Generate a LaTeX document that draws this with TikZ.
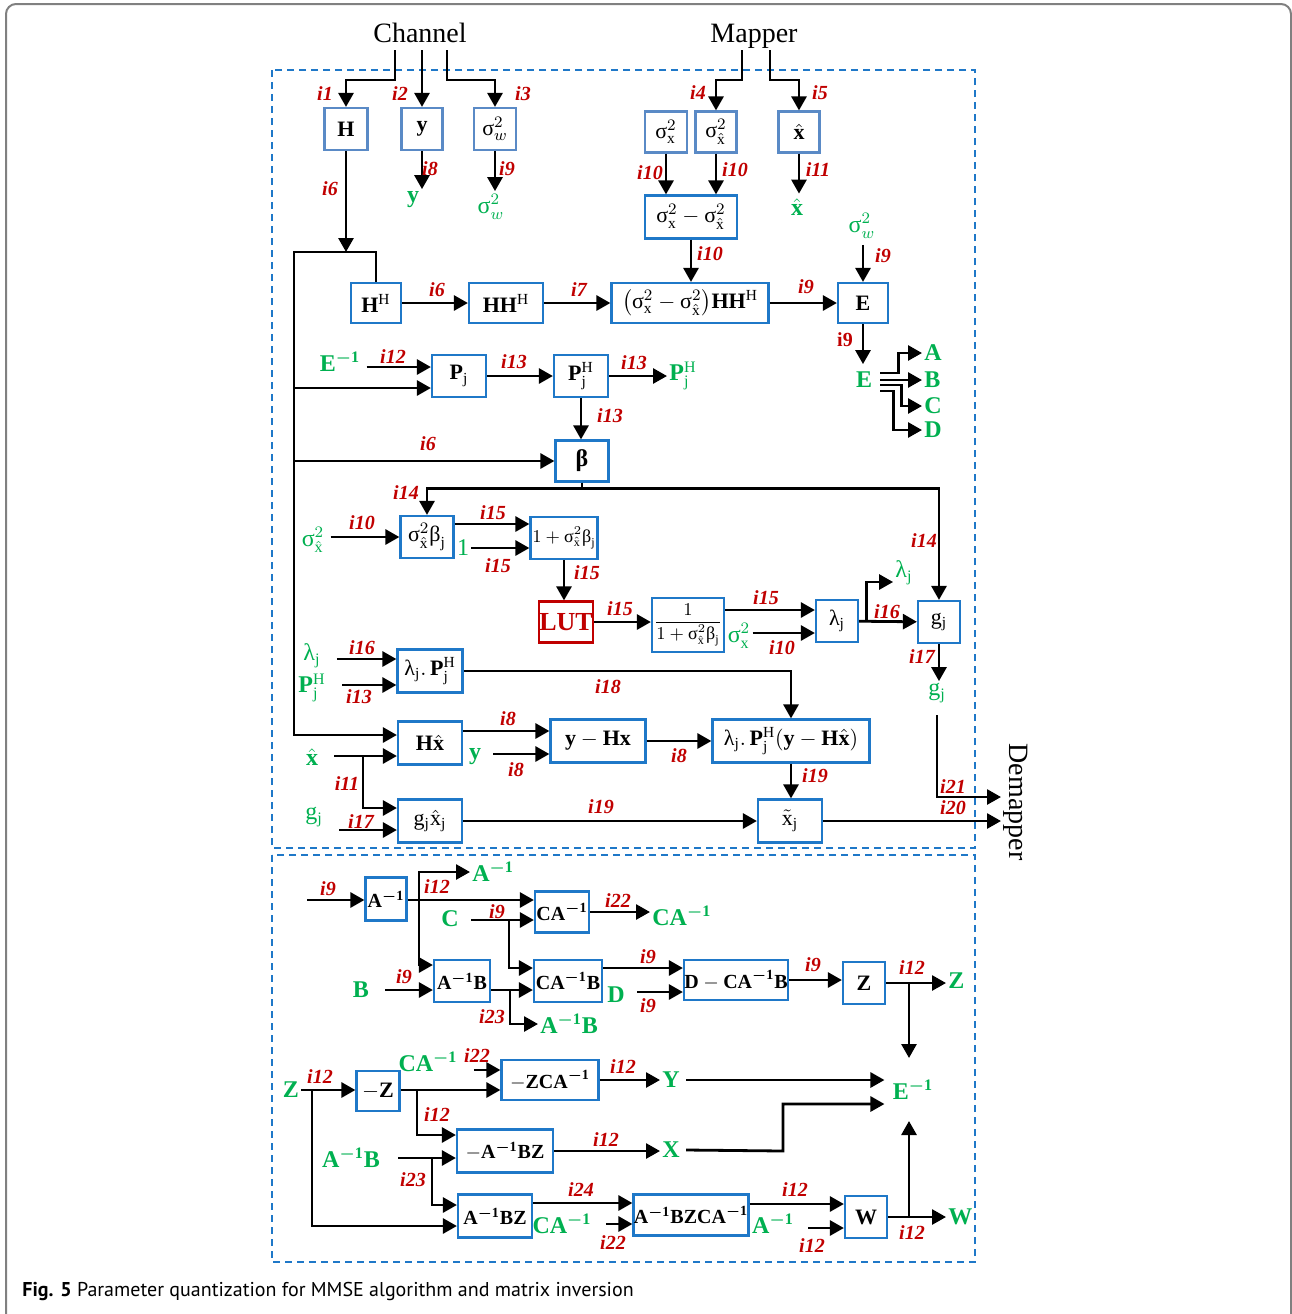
\documentclass[tikz,border=0pt]{standalone}
\usepackage{amsmath}
\usepackage{fontspec}
\setmainfont{Liberation Serif}
\newfontfamily\capfont{PT Sans}
\usetikzlibrary{arrows.meta,positioning,calc}

\definecolor{boxblue}{HTML}{1F78C8}
\definecolor{topblue}{HTML}{5A8AC6}
\definecolor{idxred}{HTML}{C00000}
\definecolor{sgreen}{HTML}{00B050}
\definecolor{framegray}{HTML}{808080}

\newcommand{\usg}{\text{σ}}
\newcommand{\ulm}{\text{λ}}
\newcommand{\ubt}{\text{β}}
\newcommand{\inv}{^{\boldsymbol{-}\mathbf{1}}}

\begin{document}
\begin{tikzpicture}[x=0.5pt,y=-0.5pt,
  blk/.style={draw=boxblue, line width=1.1pt, fill=white, inner sep=0pt, font=\fontsize{11}{13}\selectfont},
  tblk/.style={blk, draw=topblue},
  mblk/.style={blk, font=\fontsize{10}{12}\selectfont},
  lut/.style={blk, draw=idxred, text=idxred, font=\fontsize{13}{15}\selectfont\bfseries},
  sz/.style 2 args={minimum width=#1*0.5pt, minimum height=#2*0.5pt},
  idx/.style={text=idxred, font=\fontsize{10}{11}\selectfont\bfseries\itshape, inner sep=0pt},
  sig/.style={text=sgreen, font=\fontsize{12}{14}\selectfont, inner sep=3pt},
  ttl/.style={font=\fontsize{14}{16}\selectfont, inner sep=0pt, text depth=0pt},
  arrow/.style={-{Triangle[length=7pt,width=7.5pt]}, line width=1.4pt},
  grp/.style={draw=boxblue, line width=1.1pt, dash pattern=on 3.5pt off 2.5pt}
]
\useasboundingbox (0,0) rectangle (1292,1314);
\clip (0,0) rectangle (1292,1314);
\draw[framegray, line width=1pt, rounded corners=5pt] (6,4) rectangle (1291,1330);
\draw[grp] (272,70) rectangle (975,848);
\draw[grp] (272,855) rectangle (975,1262);

% sources
\node[ttl, anchor=south, inner ysep=3.5pt] (chan) at (420,50) {Channel};
\node[ttl, anchor=south, inner ysep=3.5pt] (mapr) at (754,50) {Mapper};
\node[ttl, rotate=-90, anchor=south, inner sep=1pt, text depth=] (dem) at (1001,802) {Demapper};

% first block
\node[tblk, sz={43}{42}] (bH) at (346,129) {$\mathbf{H}$};
\node[tblk, sz={41}{42}] (by) at (422,129) {$\mathbf{y}$};
\node[tblk, sz={42}{42}] (bsw) at (495,129) {$\usg_w^2$};
\node[tblk, sz={42}{41}] (bsx) at (666,132) {$\usg_\mathrm{x}^2$};
\node[tblk, sz={41}{41}] (bsxh) at (716,132) {$\usg_{\hat{\mathrm{x}}}^2$};
\node[tblk, sz={41}{41}] (bxh) at (799,132) {$\hat{\mathbf{x}}$};
\node[blk, sz={92}{43}] (diff) at (691,217) {$\usg_\mathrm{x}^2-\usg_{\hat{\mathrm{x}}}^2$};

\node[blk, sz={50}{40}] (hH) at (376,303) {$\mathbf{H}^\mathrm{H}$};
\node[blk, sz={74}{40}] (hhH) at (506,303) {$\mathbf{HH}^\mathrm{H}$};
\node[blk, sz={157}{40}] (big) at (690,303) {$\bigl(\usg_\mathrm{x}^2-\usg_{\hat{\mathrm{x}}}^2\bigr)\mathbf{HH}^\mathrm{H}$};
\node[blk, sz={50}{40}] (bE) at (863,303) {$\mathbf{E}$};

\node[blk, sz={54}{42}] (pj) at (459,376) {$\mathbf{P}_\mathrm{j}$};
\node[blk, sz={54}{42}] (pjh) at (581,376) {$\mathbf{P}_\mathrm{j}^\mathrm{H}$};
\node[blk, sz={53}{41}, font=\fontsize{12}{14}\selectfont] (beta) at (582,461) {\textbf{β}};

\node[blk, sz={53}{42}] (sbj) at (427,537) {$\usg_{\hat{\mathrm{x}}}^2\ubt_\mathrm{j}$};
\node[blk, sz={67}{42}, font=\fontsize{9}{11}\selectfont] (opb) at (564,538) {$1+\usg_{\hat{\mathrm{x}}}^2\ubt_\mathrm{j}$};
\node[lut, sz={54}{41}] (lut) at (566,622) {LUT};
\node[blk, sz={72}{54}, font=\fontsize{9}{11}\selectfont] (frac) at (688,625) {$\dfrac{1}{1+\usg_{\hat{\mathrm{x}}}^2\ubt_\mathrm{j}}$};
\node[blk, sz={42}{42}] (lam) at (837,621) {$\ulm_\mathrm{j}$};
\node[blk, sz={42}{42}] (gj) at (939,622) {$\mathrm{g}_\mathrm{j}$};

\node[blk, sz={65}{43}] (lpj) at (430,671) {$\ulm_\mathrm{j}.\,\mathbf{P}_\mathrm{j}^\mathrm{H}$};
\node[blk, sz={64}{43}] (hx) at (430,743) {$\mathbf{H}\hat{\mathbf{x}}$};
\node[blk, sz={95}{43}] (ymhx) at (598,741) {$\mathbf{y}-\mathbf{Hx}$};
\node[blk, sz={157}{43}] (lpy) at (791,741) {$\ulm_\mathrm{j}.\,\mathbf{P}_\mathrm{j}^\mathrm{H}(\mathbf{y}-\mathbf{H}\hat{\mathbf{x}})$};
\node[blk, sz={64}{43}] (gxx) at (430,821) {$\mathrm{g}_\mathrm{j}\hat{\mathrm{x}}_\mathrm{j}$};
\node[blk, sz={64}{43}] (xt) at (790,821) {$\tilde{\mathrm{x}}_\mathrm{j}$};

% green values, first block
\node[sig] (gy) at (413,200) {$\mathbf{y}$};
\node[sig] (gsw) at (491,207) {$\usg_w^2$};
\node[sig] (gxh) at (797,207) {$\hat{\mathbf{x}}$};
\node[sig] (gsw2) at (862,226) {$\usg_w^2$};
\node[sig, inner sep=0pt] (gE) at (864,380) {$\mathbf{E}$};
\node[sig, inner sep=1pt, anchor=west] (gA) at (922,353) {$\mathbf{A}$};
\node[sig, inner sep=1pt, anchor=west] (gB) at (922,380) {$\mathbf{B}$};
\node[sig, inner sep=1pt, anchor=west] (gC) at (922,406) {$\mathbf{C}$};
\node[sig, inner sep=1pt, anchor=west] (gD) at (922,430) {$\mathbf{D}$};
\node[sig] (gEi) at (340,362) {$\mathbf{E}\inv$};
\node[sig, inner sep=1pt, anchor=west] (gpjh) at (667,376) {$\mathbf{P}_\mathrm{j}^\mathrm{H}$};
\node[sig] (gsxh) at (313,540) {$\usg_{\hat{\mathrm{x}}}^2$};
\node[sig, inner sep=1pt] (gone) at (463,548) {1};
\node[sig, inner sep=1pt] (gsx) at (739,636) {$\usg_\mathrm{x}^2$};
\node[sig] (glam) at (904,573) {$\ulm_\mathrm{j}$};
\node[sig] (ggj) at (937,693) {$\mathrm{g}_\mathrm{j}$};
\node[sig, inner sep=8pt] (glam2) at (312,656) {$\ulm_\mathrm{j}$};
\node[sig, inner sep=8pt] (gpjh2) at (312,688) {$\mathbf{P}_\mathrm{j}^\mathrm{H}$};
\node[sig, inner sep=8pt] (gxh2) at (312,757) {$\hat{\mathbf{x}}$};
\node[sig, inner sep=6pt] (gy2) at (475,757) {$\mathbf{y}$};
\node[sig, inner sep=8pt] (ggj2) at (314,817) {$\mathrm{g}_\mathrm{j}$};

% matrix inversion block
\node[mblk, sz={41}{43}] (ai) at (386,899) {$\mathbf{A}\inv$};
\node[mblk, sz={54}{41}] (cai) at (562,912) {$\mathbf{CA}\inv$};
\node[mblk, sz={56}{42}] (aib) at (462,981) {$\mathbf{A}\inv\mathbf{B}$};
\node[mblk, sz={68}{42}] (caib) at (568,981) {$\mathbf{CA}\inv\mathbf{B}$};
\node[mblk, sz={104}{40}] (dcab) at (736,980) {$\mathbf{D}-\mathbf{CA}\inv\mathbf{B}$};
\node[blk, sz={42}{42}] (bz) at (864,983) {$\mathbf{Z}$};
\node[blk, sz={43}{40}] (mz) at (378,1091) {$-\mathbf{Z}$};
\node[mblk, sz={97}{40}] (zca) at (550,1080) {$-\mathbf{ZCA}\inv$};
\node[mblk, sz={96}{43}] (mabz) at (505,1151) {$-\mathbf{A}\inv\mathbf{BZ}$};
\node[mblk, sz={74}{43}] (abz) at (495,1216) {$\mathbf{A}\inv\mathbf{BZ}$};
\node[mblk, sz={115}{41}] (abzca) at (691,1215) {$\mathbf{A}\inv\mathbf{BZCA}\inv$};
\node[blk, sz={42}{42}] (bw) at (866,1217) {$\mathbf{W}$};

\node[sig, inner sep=1pt, anchor=west] (gA1) at (470,872) {$\mathbf{A}\inv$};
\node[sig, inner sep=6pt] (gC2) at (450,919) {$\mathbf{C}$};
\node[sig, inner sep=1pt, anchor=west] (gCA1) at (650,916) {$\mathbf{CA}\inv$};
\node[sig, inner sep=8pt] (gB2) at (361,990) {$\mathbf{B}$};
\node[sig, inner sep=6pt] (gD2) at (616,995) {$\mathbf{D}$};
\node[sig, inner sep=1pt, anchor=west] (gAB) at (538,1024) {$\mathbf{A}\inv\mathbf{B}$};
\node[sig, inner sep=1pt, anchor=west] (gZ) at (946,981) {$\mathbf{Z}$};
\node[sig, inner sep=1pt] (gZ2) at (291,1090) {$\mathbf{Z}$};
\node[sig, inner sep=8pt] (gCA2) at (428,1062) {$\mathbf{CA}\inv$};
\node[sig, inner sep=1pt, anchor=west] (gY) at (660,1080) {$\mathbf{Y}$};
\node[sig, inner sep=1pt, anchor=west] (gX) at (660,1150) {$\mathbf{X}$};
\node[sig, inner sep=9pt] (gAB2) at (351,1158) {$\mathbf{A}\inv\mathbf{B}$};
\node[sig, inner sep=7pt] (gCA3) at (562,1224) {$\mathbf{CA}\inv$};
\node[sig, inner sep=7pt] (gA2) at (773,1224) {$\mathbf{A}\inv$};
\node[sig, inner sep=1pt, anchor=west] (gW) at (946,1217) {$\mathbf{W}$};
\node[sig, inner sep=4pt] (gEi2) at (913,1090) {$\mathbf{E}\inv$};

% junctions and free ends
\coordinate (tk) at (294,252);
\coordinate (pjB) at ([yshift=-6pt]pj.west);
\coordinate (pjA) at ([yshift=4.5pt]pj.west);
\coordinate (opbA) at ([yshift=7pt]opb.west);
\coordinate (opbB) at ([yshift=-5pt]opb.west);
\coordinate (fracA) at ([yshift=7.5pt]frac.east);
\coordinate (lamB) at ([yshift=-6pt]lam.west);
\coordinate (lpjA) at ([yshift=6pt]lpj.west);
\coordinate (lpjB) at ([yshift=-7pt]lpj.west);
\coordinate (hxA) at ([yshift=4pt]hx.west);
\coordinate (hxB) at ([yshift=-6.5pt]hx.west);
\coordinate (hxC) at ([yshift=6pt]hx.east);
\coordinate (ymB) at ([yshift=-6.5pt]ymhx.west);
\coordinate (gxxA) at ([yshift=6.5pt]gxx.west);
\coordinate (gxxB) at ([yshift=-4.5pt]gxx.west);
\coordinate (brx) at (363,756);
\coordinate (dmA) at ([yshift=2.5pt]dem.south);

\coordinate (ain) at (307,900);
\coordinate (caiA) at ([yshift=6pt]cai.west);
\coordinate (caiB) at ([yshift=-4pt]cai.west);
\coordinate (abr) at (419,900);
\coordinate (aibA) at ([yshift=8pt]aib.west);
\coordinate (aibB) at ([yshift=-4.5pt]aib.west);
\coordinate (cbr) at (509,920);
\coordinate (caibA) at ([yshift=6.5pt]caib.west);
\coordinate (caibB) at ([yshift=-4.5pt]caib.west);
\coordinate (bbr) at (510,990);
\coordinate (dcabA) at ([yshift=6pt]dcab.west);
\coordinate (dcabB) at ([yshift=-6pt]dcab.west);
\coordinate (zbr) at (909,982);
\coordinate (zbr2) at (312,1090);
\coordinate (zcaA) at ([yshift=5pt]zca.west);
\coordinate (zcaB) at ([yshift=-5pt]zca.west);
\coordinate (mzbr) at (417,1090);
\coordinate (mabzA) at ([yshift=8pt]mabz.west);
\coordinate (mabzB) at ([yshift=-3.5pt]mabz.west);
\coordinate (abbr) at (432,1158);
\coordinate (abzA) at ([yshift=5.5pt]abz.west);
\coordinate (abzB) at ([yshift=-5pt]abz.west);
\coordinate (abzcaA) at ([yshift=6pt]abzca.west);
\coordinate (abzcaB) at ([yshift=-4.5pt]abzca.west);
\coordinate (bwA) at ([yshift=6.5pt]bw.west);
\coordinate (bwB) at ([yshift=-5.5pt]bw.west);
\coordinate (eiA) at ([yshift=5pt]gEi2.west);
\coordinate (eiB) at ([yshift=-7pt]gEi2.west);
\coordinate (xbr) at (783,1151);
\coordinate (wbr) at (909,1217);

% connectors, first block
\draw[arrow] ([xshift=-12.5pt]chan.south) -- ++(0,30) -| (bH.north);
\draw[arrow] ([xshift=1pt]chan.south) -- (by.north);
\draw[arrow] ([xshift=13.5pt]chan.south) -- ++(0,30) -| (bsw.north);
\draw[arrow] ([xshift=-6pt]mapr.south) -- ++(0,30) -| (bsxh.north);
\draw[arrow] ([xshift=8pt]mapr.south) -- ++(0,30) -| (bxh.north);
\draw[arrow] (by.south) -- ++(0,38);
\draw[arrow] (bsw.south) -- ++(0,40);
\draw[arrow] (bsx.south) -- (bsx.south |- diff.north);
\draw[arrow] (bsxh.south) -- (bsxh.south |- diff.north);
\draw[arrow] (bxh.south) -- ++(0,40);
\draw[arrow] (diff.south) -- (diff.south |- big.north);
\draw[arrow] (bH.south) -- (bH.south |- tk);
\draw[arrow] (hH.north) |- (tk) |- (hxA);
\draw[arrow] (hH) -- (hhH);
\draw[arrow] (hhH) -- (big);
\draw[arrow] (big) -- (bE);
\draw[arrow] (gsw2.south -| bE.north) -- (bE.north);
\draw[arrow] (bE.south) -- ++(0,40);
\draw[arrow] ([xshift=4pt,yshift=3.5pt]gE.east) -- ++(18,0) |- (gA.west);
\draw[arrow] ([xshift=4pt]gE.east) -- (gB.west);
\draw[arrow] ([xshift=4pt,yshift=-2.5pt]gE.east) -- ++(21,0) |- (gC.west);
\draw[arrow] ([xshift=4pt,yshift=-5.5pt]gE.east) -- ++(13,0) |- (gD.west);
\draw[arrow] (gEi.east |- pjA) -- (pjA);
\draw[arrow] (tk |- pjB) -- (pjB);
\draw[arrow] (pj) -- (pjh);
\draw[arrow] (pjh) -- (gpjh);
\draw[arrow] (pjh.south) -- (pjh.south |- beta.north);
\draw[arrow] (tk |- beta) -- (beta);
\draw[arrow] (beta.south) -- ++(0,6) -| (sbj.north);
\draw[arrow] (beta.south) -- ++(0,6) -| (gj.north);
\draw[arrow] (gsxh.east |- sbj.west) -- (sbj.west);
\draw[arrow] (sbj.east |- opbA) -- (opbA);
\draw[arrow] (gone.east |- opbB) -- (opbB);
\draw[arrow] (opb.south) -- (opb.south |- lut.north);
\draw[arrow] (lut.east) -- (lut.east -| frac.west);
\draw[arrow] (fracA) -- (fracA -| lam.west);
\draw[arrow] (gsx.east |- lamB) -- (lamB);
\draw[arrow] (lam) -- (gj);
\draw[arrow] ([xshift=3.5pt]lam.east) |- ++(27,-39);
\draw[arrow] (gj.south) -- ++(0,37);
\draw[arrow] (glam2.east |- lpjA) -- (lpjA);
\draw[arrow] (gpjh2.east |- lpjB) -- (lpjB);
\draw[arrow] (lpj.east) -| (lpy.north);
\draw[arrow] (gxh2.east |- hxB) -- (hxB);
\draw[arrow] (brx) |- (gxxA);
\draw[arrow] (ggj2.east |- gxxB) -- (gxxB);
\draw[arrow] (hxC) -- (hxC -| ymhx.west);
\draw[arrow] (gy2.east |- ymB) -- (ymB);
\draw[arrow] (ymhx) -- (lpy);
\draw[arrow] (lpy.south) -- (lpy.south |- xt.north);
\draw[arrow] (gxx) -- (gxx -| xt.west);
\draw[arrow] (xt.east) -- (xt.east -| dem.south);
\draw[arrow] ([yshift=-3pt]ggj.south) |- (dmA);

% connectors, matrix inversion block
\draw[arrow] (ain) -- (ain -| ai.west);
\draw[arrow] (ai.east |- caiA) -- (caiA);
\draw[arrow] (abr) |- (gA1.west);
\draw[arrow] (abr) |- (aibA);
\draw[arrow] (gC2.east |- caiB) -- (caiB);
\draw[arrow] (cbr) |- (caibA);
\draw[arrow] (cai.east) -- (cai.east -| gCA1.west);
\draw[arrow] (gB2.east |- aibB) -- (aibB);
\draw[arrow] (aib.east |- caibB) -- (caibB);
\draw[arrow] (bbr) |- (gAB.west);
\draw[arrow] (caib.east |- dcabA) -- (dcabA);
\draw[arrow] (gD2.east |- dcabB) -- (dcabB);
\draw[arrow] (dcab) -- (dcab -| bz.west);
\draw[arrow] (bz.east) -- (bz.east -| gZ.west);
\draw[arrow] (zbr) -- ++(0,76);
\draw[arrow] (gZ2.east) -- (gZ2.east -| mz.west);
\draw[arrow] (zbr2) |- (abzB);
\draw[arrow] (mz.east |- zcaB) -- (zcaB);
\draw[arrow] (gCA2.east |- zcaA) -- (zcaA);
\draw[arrow] (mzbr) |- (mabzA);
\draw[arrow] (zca.east) -- (zca.east -| gY.west);
\draw[arrow] ([xshift=2pt]gY.east |- eiA) -- (eiA);
\draw[arrow] (gAB2.east |- mabzB) -- (mabzB);
\draw[arrow] (abbr) |- (abzA);
\draw[arrow] (mabz.east) -- (mabz.east -| gX.west);
\draw[arrow] ([xshift=2pt]gX.east) -- (xbr) |- (eiB);
\draw[arrow] (abz.east |- abzcaA) -- (abzcaA);
\draw[arrow] (gCA3.east |- abzcaB) -- (abzcaB);
\draw[arrow] (abzca.east |- bwA) -- (bwA);
\draw[arrow] (gA2.east |- bwB) -- (bwB);
\draw[arrow] (bw.east) -- (bw.east -| gW.west);
\draw[arrow] (wbr) -- ++(0,-96);

% index labels
\node[idx] (t1) at (325,94) {i1};
\node[idx] (t2) at (400,94) {i2};
\node[idx] (t3) at (523,94) {i3};
\node[idx] (t4) at (698,93) {i4};
\node[idx] (t5) at (820,93) {i5};
\node[idx] (t6) at (330,189) {i6};
\node[idx] (t7) at (430,169) {i8};
\node[idx] (t8) at (507,169) {i9};
\node[idx] (t9) at (650,173) {i10};
\node[idx] (t10) at (735,170) {i10};
\node[idx] (t11) at (818,170) {i11};
\node[idx] (t12) at (710,254) {i10};
\node[idx] (t13) at (437,290) {i6};
\node[idx] (t14) at (579,290) {i7};
\node[idx] (t15) at (806,287) {i9};
\node[idx] (t16) at (883,256) {i9};
\node[idx, font=\fontsize{10}{11}\selectfont\bfseries] (t17) at (845,340) {i9};
\node[idx] (t18) at (393,357) {i12};
\node[idx] (t19) at (514,362) {i13};
\node[idx] (t20) at (634,363) {i13};
\node[idx] (t21) at (610,416) {i13};
\node[idx] (t22) at (428,444) {i6};
\node[idx] (t23) at (406,493) {i14};
\node[idx] (t24) at (924,541) {i14};
\node[idx] (t25) at (362,523) {i10};
\node[idx] (t26) at (493,513) {i15};
\node[idx] (t27) at (498,566) {i15};
\node[idx] (t28) at (587,573) {i15};
\node[idx] (t29) at (620,609) {i15};
\node[idx] (t30) at (766,598) {i15};
\node[idx] (t31) at (782,648) {i10};
\node[idx] (t32) at (887,612) {i16};
\node[idx] (t33) at (922,657) {i17};
\node[idx] (t34) at (362,648) {i16};
\node[idx] (t35) at (359,697) {i13};
\node[idx] (t36) at (608,687) {i18};
\node[idx] (t37) at (508,719) {i8};
\node[idx] (t38) at (516,770) {i8};
\node[idx] (t39) at (679,756) {i8};
\node[idx] (t40) at (815,776) {i19};
\node[idx] (t41) at (347,784) {i11};
\node[idx] (t42) at (361,822) {i17};
\node[idx] (t43) at (601,807) {i19};
\node[idx] (t44) at (953,787) {i21};
\node[idx] (t45) at (953,808) {i20};
\node[idx] (t46) at (328,889) {i9};
\node[idx] (t47) at (437,887) {i12};
\node[idx] (t48) at (497,912) {i9};
\node[idx] (t49) at (618,901) {i22};
\node[idx] (t50) at (404,977) {i9};
\node[idx] (t51) at (492,1017) {i23};
\node[idx] (t52) at (648,957) {i9};
\node[idx] (t53) at (648,1006) {i9};
\node[idx] (t54) at (813,965) {i9};
\node[idx] (t55) at (912,968) {i12};
\node[idx] (t56) at (320,1077) {i12};
\node[idx] (t57) at (477,1056) {i22};
\node[idx] (t58) at (623,1067) {i12};
\node[idx] (t59) at (437,1115) {i12};
\node[idx] (t60) at (606,1140) {i12};
\node[idx] (t61) at (413,1180) {i23};
\node[idx] (t62) at (581,1190) {i24};
\node[idx] (t63) at (613,1243) {i22};
\node[idx] (t64) at (795,1190) {i12};
\node[idx] (t65) at (812,1246) {i12};
\node[idx] (t66) at (912,1233) {i12};

% caption
\node[anchor=base west, inner sep=0pt, font=\capfont\fontsize{10}{12}\selectfont] (cap) at (22,1296) {\textbf{Fig. 5} Parameter quantization for MMSE algorithm and matrix inversion};
\end{tikzpicture}
\end{document}
